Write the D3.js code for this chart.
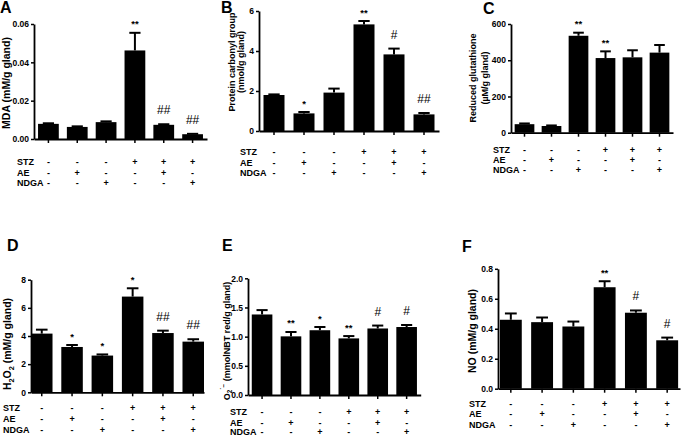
<!DOCTYPE html>
<html>
<head>
<meta charset="utf-8">
<script src="https://cdn.jsdelivr.net/npm/d3@7"></script>
<style>
  html, body { margin: 0; padding: 0; background: #fff; }
  svg { display: block; font-family: "Liberation Sans", Arial, sans-serif; }
</style>
</head>
<body>
<svg id="chart" width="685" height="438"></svg>
<script>
// ---------------- DATA ----------------
const categories = ["Control", "AE", "NDGA", "STZ", "STZ+AE", "STZ+NDGA"];
const tableRows = ["STZ", "AE", "NDGA"];
const stzRow  = ["-", "-", "-", "+", "+", "+"];
const aeRow   = ["-", "+", "-", "-", "+", "-"];
const ndgaRow = ["-", "-", "+", "-", "-", "+"];

// A: MDA (mM/g gland)
const mdaMean = [0.0079, 0.0063, 0.0088, 0.0462, 0.0074, 0.0025];
const mdaSem  = [0.0003, 0.0003, 0.0004, 0.0092, 0.0003, 0.0002];
const mdaSig  = ["", "", "", "**", "##", "##"];
const mdaTicks = [0, 0.02, 0.04, 0.06];

// B: Protein carbonyl group (nmol/g gland)
const carbonylMean = [1.80, 0.88, 1.92, 5.33, 3.83, 0.83];
const carbonylSem  = [0.03, 0.07, 0.20, 0.17, 0.29, 0.07];
const carbonylSig  = ["", "*", "", "**", "#", "##"];
const carbonylTicks = [0, 2, 4, 6];

// C: Reduced glutathione (µM/g gland)
const gshMean = [47, 37, 535, 412, 416, 442];
const gshSem  = [4, 3, 17, 37, 39, 42];
const gshSig  = ["", "", "**", "**", "", ""];
const gshTicks = [0, 200, 400, 600];

// D: H2O2 (mM/g gland)
const h2o2Mean = [4.17, 3.22, 2.61, 6.80, 4.21, 3.60];
const h2o2Sem  = [0.28, 0.14, 0.08, 0.59, 0.17, 0.17];
const h2o2Sig  = ["", "*", "*", "*", "##", "##"];
const h2o2Ticks = [0, 2, 4, 6, 8];

// E: O2.- (mmolNBT red/g gland)
const superoxideMean = [1.38, 1.005, 1.11, 0.97, 1.14, 1.165];
const superoxideSem  = [0.075, 0.075, 0.055, 0.04, 0.05, 0.035];
const superoxideSig  = ["", "**", "*", "**", "#", "#"];
const superoxideTicks = [0, 0.5, 1.0, 1.5, 2.0];

// F: NO (mM/g gland)
const noMean = [0.46, 0.444, 0.415, 0.677, 0.507, 0.323];
const noSem  = [0.042, 0.031, 0.033, 0.040, 0.015, 0.018];
const noSig  = ["", "", "", "**", "#", "#"];
const noTicks = [0, 0.2, 0.4, 0.6, 0.8];

// ---------------- LAYOUT ----------------
const panels = [
  { letter: "A", lx: 0, ly: 13, mean: mdaMean, sem: mdaSem, sig: mdaSig, ticks: mdaTicks, fmt: ".2f",
    x0: 34, x1: 207, yTop: 24, yBot: 139, pIn: 0.28, pOut: 0.14,
    rowsY: [162, 172.5, 183], rowLabelX: 17,
    ylab: { lines: [[{t: "MDA (mM/g gland)"}]], x: 9.5, y: 83, size: 10.5, gap: 0 } },
  { letter: "B", lx: 221, ly: 13, mean: carbonylMean, sem: carbonylSem, sig: carbonylSig, ticks: carbonylTicks, fmt: "d",
    x0: 259, x1: 439, yTop: 11, yBot: 131, pIn: 0.3, pOut: 0.15,
    rowsY: [152, 162.5, 173], rowLabelX: 240,
    ylab: { lines: [[{t: "Protein carbonyl  group"}], [{t: "(nmol/g gland)"}]], x: 234.5, y: 62, size: 9, gap: 9.5 } },
  { letter: "C", lx: 483, ly: 13.5, mean: gshMean, sem: gshSem, sig: gshSig, ticks: gshTicks, fmt: "d",
    x0: 511, x1: 673, yTop: 24, yBot: 132.7, pIn: 0.27, pOut: 0.135,
    rowsY: [149.3, 159.5, 170], rowLabelX: 493,
    ylab: { lines: [[{t: "Reduced glutathione"}], [{t: "(\u00B5M/g gland)"}]], x: 476, y: 78, size: 9, gap: 12 } },
  { letter: "D", lx: 7, ly: 250.5, mean: h2o2Mean, sem: h2o2Sem, sig: h2o2Sig, ticks: h2o2Ticks, fmt: "d",
    x0: 31, x1: 204, yTop: 279.7, yBot: 392.3, pIn: 0.29, pOut: 0,
    rowsY: [407.7, 419, 429.7], rowLabelX: 3,
    ylab: { lines: [[{t: "H"}, {t: "2", sub: true}, {t: "O"}, {t: "2", sub: true}, {t: " (mM/g gland)"}]], x: 10.5, y: 344, size: 10.5, gap: 0 } },
  { letter: "E", lx: 222, ly: 250.5, mean: superoxideMean, sem: superoxideSem, sig: superoxideSig, ticks: superoxideTicks, fmt: ".1f",
    x0: 248, x1: 420.7, yTop: 278.3, yBot: 395, pIn: 0.287, pOut: 0.13,
    rowsY: [412, 422.5, 432], rowLabelX: 230,
    ylab: { lines: [[{t: "O"}, {t: "2", sub: true}, {t: "\u02D9\u2212", sup: true}, {t: " (mmolNBT red/g gland)"}]], x: 229.5, y: 341, size: 9, gap: 0 } },
  { letter: "F", lx: 462, ly: 251.5, mean: noMean, sem: noSem, sig: noSig, ticks: noTicks, fmt: ".1f",
    x0: 498, x1: 680, yTop: 268.8, yBot: 388.7, pIn: 0.3, pOut: 0.06,
    rowsY: [403.3, 413.6, 425], rowLabelX: 469,
    ylab: { lines: [[{t: "NO (mM/g gland)"}]], x: 475.5, y: 331, size: 10.5, gap: 0 } }
];

const rowsData = [stzRow, aeRow, ndgaRow];
const svg = d3.select("#chart");
const FONT = "'Liberation Sans', Arial, sans-serif";

panels.forEach(cfg => {
  const g = svg.append("g");
  const x = d3.scaleBand().domain(categories).range([cfg.x0, cfg.x1])
    .paddingInner(cfg.pIn).paddingOuter(cfg.pOut);
  const yMax = cfg.ticks[cfg.ticks.length - 1];
  const y = d3.scaleLinear().domain([0, yMax]).range([cfg.yBot, cfg.yTop]);
  const bw = x.bandwidth();
  const cx = c => x(c) + bw / 2;

  // bars
  g.selectAll("rect.bar").data(categories).join("rect")
    .attr("class", "bar")
    .attr("x", c => x(c))
    .attr("y", (c, i) => y(cfg.mean[i]))
    .attr("width", bw)
    .attr("height", (c, i) => y(0) - y(cfg.mean[i]))
    .attr("fill", "#000");

  // error bars (upper only)
  g.selectAll("line.err").data(categories).join("line")
    .attr("class", "err")
    .attr("x1", cx).attr("x2", cx)
    .attr("y1", (c, i) => y(cfg.mean[i]))
    .attr("y2", (c, i) => y(cfg.mean[i] + cfg.sem[i]))
    .attr("stroke", "#000").attr("stroke-width", 2);
  g.selectAll("line.cap").data(categories).join("line")
    .attr("class", "cap")
    .attr("x1", c => cx(c) - bw * 0.27).attr("x2", c => cx(c) + bw * 0.27)
    .attr("y1", (c, i) => y(cfg.mean[i] + cfg.sem[i]))
    .attr("y2", (c, i) => y(cfg.mean[i] + cfg.sem[i]))
    .attr("stroke", "#000").attr("stroke-width", 2);

  // significance marks
  g.selectAll("text.sig").data(categories).join("text")
    .attr("class", "sig")
    .attr("x", cx)
    .attr("y", (c, i) => {
      const top = y(cfg.mean[i] + cfg.sem[i]);
      return cfg.sig[i].startsWith("#") ? top - 10 : top - 5.5;
    })
    .attr("text-anchor", "middle")
    .attr("font-family", FONT)
    .attr("font-size", (c, i) => cfg.sig[i].startsWith("#") ? 12 : 9.5)
    .attr("font-weight", (c, i) => cfg.sig[i].startsWith("#") ? "normal" : "bold")
    .style("fill", "#000")
    .text((c, i) => cfg.sig[i]);

  // y axis
  const yAxis = d3.axisLeft(y).tickValues(cfg.ticks)
    .tickFormat(d3.format(cfg.fmt)).tickSize(3).tickSizeOuter(0).tickPadding(2);
  const ya = g.append("g").attr("transform", `translate(${cfg.x0},0)`).call(yAxis);
  ya.select(".domain").attr("stroke-width", 1.8);
  ya.selectAll(".tick line").attr("stroke-width", 1.5);
  ya.selectAll(".tick text").attr("font-size", 8.5).attr("font-weight", "bold")
    .attr("font-family", FONT).attr("fill", "#000");

  // x axis
  const xAxis = d3.axisBottom(x).tickSize(4).tickSizeOuter(0).tickFormat("");
  const xa = g.append("g").attr("transform", `translate(0,${cfg.yBot})`).call(xAxis);
  xa.select(".domain").attr("stroke-width", 1.8);
  xa.selectAll(".tick line").attr("stroke-width", 1.5);

  // condition table
  tableRows.forEach((rname, r) => {
    g.append("text")
      .attr("x", cfg.rowLabelX).attr("y", cfg.rowsY[r] + 3.2)
      .attr("font-size", 9).attr("font-weight", "bold").attr("fill", "#000")
      .text(rname);
    g.selectAll(null).data(categories).join("text")
      .attr("x", cx).attr("y", cfg.rowsY[r] + 3.2)
      .attr("text-anchor", "middle")
      .attr("font-size", 9).attr("font-weight", "bold").attr("fill", "#000")
      .text((c, i) => rowsData[r][i]);
  });

  // y label
  cfg.ylab.lines.forEach((parts, li) => {
    const t = g.append("text")
      .attr("transform", `translate(${cfg.ylab.x + li * cfg.ylab.gap},${cfg.ylab.y}) rotate(-90)`)
      .attr("text-anchor", "middle")
      .attr("font-size", cfg.ylab.size).attr("font-weight", "bold").attr("fill", "#000");
    let shift = 0;
    parts.forEach(p => {
      const ts = t.append("tspan").text(p.t);
      let target = 0;
      if (p.sub) { ts.attr("font-size", cfg.ylab.size * 0.7); target = cfg.ylab.size * 0.3; }
      if (p.sup) { ts.attr("font-size", cfg.ylab.size * 0.7); target = -cfg.ylab.size * 0.4; }
      if (target !== shift) { ts.attr("dy", target - shift); shift = target; }
    });
  });

  // panel letter
  g.append("text")
    .attr("x", cfg.lx).attr("y", cfg.ly)
    .attr("font-size", 16).attr("font-weight", "bold").attr("fill", "#000")
    .text(cfg.letter);
});
</script>
</body>
</html>
